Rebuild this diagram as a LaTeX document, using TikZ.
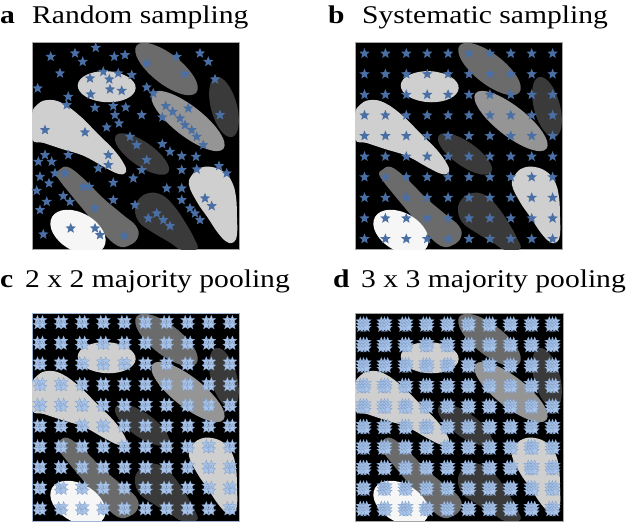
\documentclass[tikz,border=0pt]{standalone}
\usepackage{fontspec}
\setmainfont{Liberation Serif}
\usetikzlibrary{shapes.geometric}

\definecolor{starblue}{HTML}{4A6FA5}
\definecolor{poolblue}{HTML}{A9C4E8}
\definecolor{pooledge}{HTML}{7E9CC6}
\definecolor{blobdark}{HTML}{3A3A3A}
\definecolor{blobmid}{HTML}{6B6B6B}
\definecolor{blobgrey}{HTML}{959595}
\definecolor{bloblight}{HTML}{CFCFCF}
\definecolor{blobwhite}{HTML}{F6F6F6}

\tikzset{
  panel/.style={fill=black, draw=gray!70, line width=0.6pt},
  samplestar/.style={star, star points=5, star point ratio=2.3, fill=starblue,
    minimum size=11pt, inner sep=0pt},
  poolstar/.style={star, star points=5, star point ratio=2.3, fill=poolblue,
    draw=pooledge, line width=0.25pt, minimum size=9.5pt, inner sep=0pt},
  panellabel/.style={anchor=base west, inner sep=0pt, xscale=1.16,
    font=\fontsize{25.5}{30}\selectfont\bfseries},
  paneltitle/.style={anchor=base west, inner sep=0pt, xscale=1.16,
    font=\fontsize{25.5}{30}\selectfont},
}

% the map: blobs in panel coordinates (0..207, y downwards)
\newcommand{\drawblobs}{%
  \begin{scope}
    \clip (0,0) rectangle (207,207);
    \fill[blobmid, rotate around={-38:(134.5,27)}] (134.5,27) ellipse (38 and 15);
    \fill[bloblight, rotate around={-3:(74.7,44.7)}] (74.7,44.7) ellipse (29 and 15.5);
    \fill[blobdark, rotate around={-75:(192,65)}] (192,65) ellipse (31 and 13);
    \fill[blobgrey, rotate around={-38:(156,79)}] (156,79) ellipse (45 and 15);
    \fill[blobdark, rotate around={-35:(110,112)}] (110,112) ellipse (32 and 12);
    \fill[bloblight] plot[smooth cycle, tension=0.7] coordinates {(0,72) (6,62)
      (16,58) (30,61) (48,74) (66,92) (82,108) (92,122) (94,130) (87,132)
      (72,125) (52,114) (30,107) (12,101) (0,97)};
    \fill[blobmid] plot[smooth cycle, tension=0.7] coordinates {(27,128) (36,125)
      (52,137) (71,156) (90,172) (104,184) (106,195) (98,203) (86,204) (70,190)
      (55,172) (40,154) (28,139) (24,132)};
    \fill[blobwhite, rotate around={-30:(46,190)}] (46,190) ellipse (30 and 19);
    \fill[blobdark] plot[smooth cycle, tension=0.7] coordinates {(103,167) (107,157)
      (117,151) (130,153) (142,164) (153,180) (162,196) (165,207) (150,208)
      (137,200) (120,190) (107,180)};
    \fill[bloblight] plot[smooth cycle, tension=0.7] coordinates {(157,143) (160,133)
      (168,126) (180,125) (192,130) (200,140) (204,155) (205,175) (205,192)
      (202,200) (195,200) (186,191) (176,176) (165,160)};
  \end{scope}}

\begin{document}
\begin{tikzpicture}[x=1pt, y=-1pt]
  \useasboundingbox (0,0) rectangle (630,523);

  % titles
  \node[panellabel] (la) at (0,23.5) {a};
  \node[paneltitle] (ta) at (32,23.5) {Random sampling};
  \node[panellabel] (lb) at (328,23.5) {b};
  \node[paneltitle] (tb) at (362,23.5) {Systematic sampling};
  \node[panellabel] (lc) at (0,287.5) {c};
  \node[paneltitle] (tc) at (25,287.5) {2 x 2 majority pooling};
  \node[panellabel] (ld) at (333,287.5) {d};
  \node[paneltitle] (td) at (361,287.5) {3 x 3 majority pooling};

  % a: random sampling
  \begin{scope}[shift={(32,42)}]
    \draw[panel] (0,0) rectangle (207,207);
    \drawblobs
  \end{scope}
  \foreach \x/\y [count=\k] in {95.7/47.7, 50.7/56.7, 75/53.3, 82.7/61.7,
      114.3/56.7, 125/55, 176.7/56.7, 200/53.3, 208.3/61.7, 60/73.3,
      103.3/71.7, 118.3/73.3, 131.7/75, 90/78.3, 109.3/79.3, 146.7/63.3,
      37.7/88.3, 146.7/87.3, 153.3/93.3, 185/74, 215/79.3, 110/89.3,
      121.7/90.7, 90.7/94.3, 68.3/96.7, 66.7/105, 95/107.7, 113.3/106,
      125.7/107.3, 141.7/115, 115/115, 119/123.3, 106.7/127.3, 45/130,
      85/132.3, 165.7/106, 188.3/108.3, 172.7/111.7, 162.3/117.3, 180/118.3,
      185/125, 191.7/130, 196.7/136.7, 203.3/145, 220/115, 130/136.7,
      136.7/145, 162.3/144, 170/151.7, 181.7/156, 196/156.7, 146.7/160,
      108.3/155, 68.3/155, 45/155, 38.3/161.7, 51.7/161.7, 108.3/165,
      98.3/168.3, 55/173.3, 65/173.3, 141.7/170, 133.3/178.3, 40/176.7,
      49/183.3, 83.3/186.7, 89.3/186.7, 113.3/182.7, 181.7/170, 196.7/169.3,
      219/166, 226.7/173.3, 36.7/190.7, 63.3/196, 70/201.7, 166.7/188.3,
      181.7/188.3, 113.3/200, 46.7/201.7, 40/210, 135/205, 181.7/200,
      190/208.3, 195/213.3, 205/198.3, 211.7/206, 200/220, 95/208.3,
      156.7/213.3, 148.3/218.3, 163.3/220, 170/226, 70.7/228.3, 95/228.3,
      100/235, 43.3/234.3, 124/235.7}
    \node[samplestar] (sa\k) at (\x,\y) {};

  % b: systematic sampling
  \begin{scope}[shift={(355,42)}]
    \draw[panel] (0,0) rectangle (207,207);
    \drawblobs
    \foreach \i in {0,...,9}
      \foreach \j in {0,...,9}
        \node[samplestar] (sb-\i-\j) at ({9.5+20.9*\i},{11.5+20.6*\j}) {};
  \end{scope}

  % c: 2 x 2 majority pooling
  \begin{scope}[shift={(32,313)}]
    \draw[panel, draw=poolblue!80!gray] (0,0) rectangle (207,208);
    \drawblobs
    \foreach \i in {0,...,9}
      \foreach \j in {0,...,9}
        \foreach \dx/\dy [count=\k] in {-2.5/-2.5, 2.5/-2.5, -2.5/2.5, 2.5/2.5}
          \node[poolstar] (pc-\i-\j-\k) at ({8+21.1*\i+\dx},{9.5+20.7*\j+\dy}) {};
  \end{scope}

  % d: 3 x 3 majority pooling
  \begin{scope}[shift={(355,313)}]
    \draw[panel] (0,0) rectangle (208,208);
    \drawblobs
    \foreach \i in {0,...,9}
      \foreach \j in {0,...,9}
        \foreach \dx/\dy [count=\k] in {-3.2/-3.2, 0/-3.2, 3.2/-3.2, -3.2/0, 0/0,
            3.2/0, -3.2/3.2, 0/3.2, 3.2/3.2}
          \node[poolstar] (pd-\i-\j-\k) at ({8.5+21*\i+\dx},{11.5+20.5*\j+\dy}) {};
  \end{scope}
\end{tikzpicture}
\end{document}
